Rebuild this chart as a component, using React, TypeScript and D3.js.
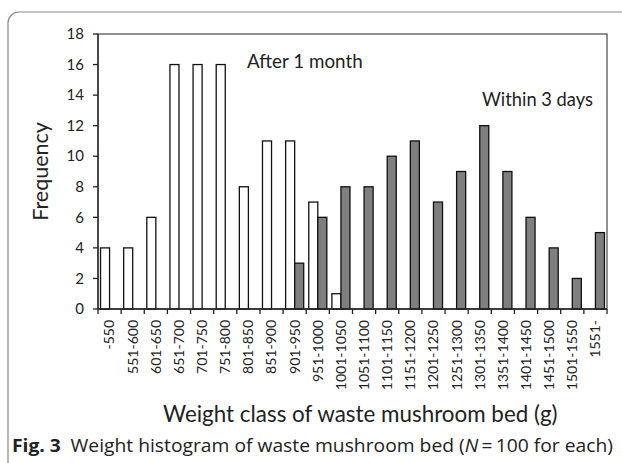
import React from 'react';
import * as d3 from 'd3';

const categories = [
  '-550', '551-600', '601-650', '651-700', '701-750', '751-800', '801-850',
  '851-900', '901-950', '951-1000', '1001-1050', '1051-1100', '1101-1150',
  '1151-1200', '1201-1250', '1251-1300', '1301-1350', '1351-1400',
  '1401-1450', '1451-1500', '1501-1550', '1551-',
];
const afterMonth = [4, 4, 6, 16, 16, 16, 8, 11, 11, 7, 1, 0, 0, 0, 0, 0, 0, 0, 0, 0, 0, 0];
const within3Days = [0, 0, 0, 0, 0, 0, 0, 0, 3, 6, 8, 8, 10, 11, 7, 9, 12, 9, 6, 4, 2, 5];
const yTicks = [0, 2, 4, 6, 8, 10, 12, 14, 16, 18];
const seriesKeys = ['month', 'days'];

const W = 622, H = 463;
const left = 98, right = 607, top = 34, bottom = 309;
const font = 'Lato, "Open Sans", sans-serif';

export default function App() {
  const x = d3.scaleBand().domain(categories).range([left, right]).padding(0);
  const xs = d3.scaleBand().domain(seriesKeys).range([0, x.bandwidth()]).paddingInner(0).paddingOuter(0.28);
  const y = d3.scaleLinear().domain([0, 18]).range([bottom, top]);

  const rows = categories.map((c, i) => ({ c, month: afterMonth[i], days: within3Days[i] }));
  const boundaries = categories.map(c => x(c)!).concat([right]);

  return (
    <svg width={W} height={H} style={{ position: 'absolute', left: 0, top: 0, background: '#fff' }}>
      {/* outer frame */}
      <rect x={8} y={12} width={640} height={480} rx={11} fill="none" stroke="#8a8a8a" strokeWidth={1.2} />

      {/* plot box */}
      <rect x={left} y={top} width={right - left} height={bottom - top} fill="none" stroke="#222" strokeWidth={1} />

      {/* bars */}
      {rows.map(r => (
        <g key={r.c}>
          {r.month > 0 && (
            <rect x={x(r.c)! + xs('month')!} y={y(r.month)} width={xs.bandwidth()} height={bottom - y(r.month)}
              fill="#fff" stroke="#111" strokeWidth={1.3} />
          )}
          {r.days > 0 && (
            <rect x={x(r.c)! + xs('days')!} y={y(r.days)} width={xs.bandwidth()} height={bottom - y(r.days)}
              fill="#7f7f7f" stroke="#111" strokeWidth={1.3} />
          )}
        </g>
      ))}

      {/* y axis */}
      <line x1={left} x2={left} y1={top} y2={bottom} stroke="#222" strokeWidth={1.3} />
      {yTicks.map(t => (
        <g key={t}>
          <line x1={left - 5} x2={left} y1={y(t)} y2={y(t)} stroke="#222" strokeWidth={1.3} />
          <text x={left - 14} y={y(t)} dy="0.35em" textAnchor="end" fontFamily={font} fontSize={15} fill="#222">{t}</text>
        </g>
      ))}

      {/* x axis */}
      <line x1={left} x2={right} y1={bottom} y2={bottom} stroke="#222" strokeWidth={1.3} />
      {boundaries.map((b, i) => (
        <line key={i} x1={b} x2={b} y1={bottom} y2={bottom + 5} stroke="#222" strokeWidth={1.3} />
      ))}
      {categories.map(c => (
        <text key={c} transform={`translate(${x(c)! + x.bandwidth() / 2},${bottom + 11}) rotate(-90)`}
          dy="0.35em" textAnchor="end" fontFamily={font} fontSize={14} fill="#222">{c}</text>
      ))}

      {/* annotations */}
      <text x={247} y={68} fontFamily={font} fontSize={18.8} fill="#222">After 1 month</text>
      <text x={482} y={106} fontFamily={font} fontSize={18.3} fill="#222">Within 3 days</text>

      {/* axis titles */}
      <text transform={`translate(48,${(top + bottom) / 2}) rotate(-90)`} textAnchor="middle"
        fontFamily={font} fontSize={21.5} fill="#222">Frequency</text>
      <text x={163} y={422} fontFamily={font} fontSize={22.4} fill="#222">Weight class of waste mushroom bed  (g)</text>

      {/* caption */}
      <text x={12} y={452} fontFamily='"Open Sans", sans-serif' fontSize={18} fill="#222" textLength={601} lengthAdjust="spacingAndGlyphs">
        <tspan fontWeight="bold">Fig. 3</tspan>
        <tspan>{'\u2002Weight histogram of waste mushroom bed ('}</tspan>
        <tspan fontStyle="italic">N</tspan>
        <tspan>{'\u2009=\u2009100 for each)'}</tspan>
      </text>
    </svg>
  );
}
